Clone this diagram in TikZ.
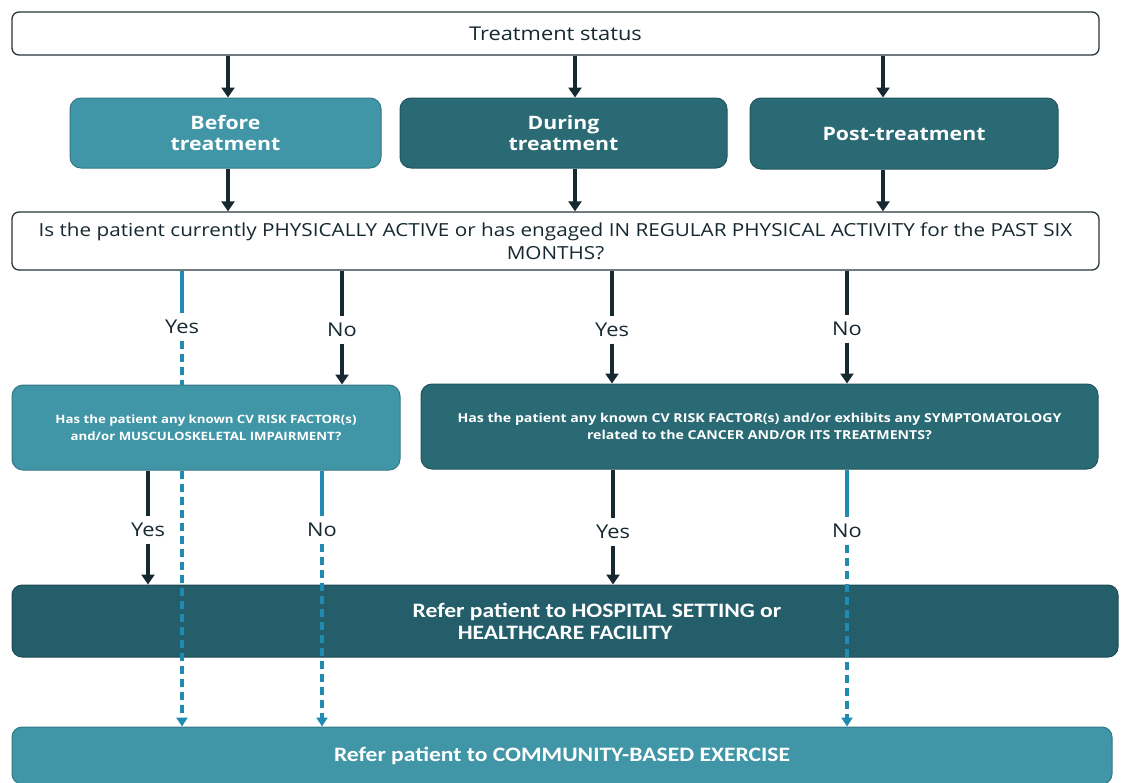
\documentclass[tikz,border=0pt]{standalone}
\usepackage{fontspec}
\setmainfont{Open Sans}[FakeStretch=1.15]
\newfontfamily\calfont{Carlito}[FakeStretch=1.15]
\usetikzlibrary{arrows.meta}

\definecolor{tealA}{RGB}{64,150,167}
\definecolor{tealB}{RGB}{42,106,116}
\definecolor{tealC}{RGB}{36,94,106}
\definecolor{inkdark}{RGB}{22,40,48}
\definecolor{inkblue}{RGB}{32,138,176}
\definecolor{boxline}{RGB}{40,52,58}

\tikzset{
  whitebox/.style={draw=boxline,fill=white,rounded corners=7pt,line width=1.3pt,
    align=center,inner sep=0pt,text=inkdark},
  phasebox/.style={rounded corners=11pt,line width=1pt,align=center,inner sep=0pt,
    text=white,font=\fontsize{18.5}{21}\selectfont\bfseries},
  askbox/.style={rounded corners=11pt,line width=1pt,align=center,inner sep=0pt,
    text=white,font=\fontsize{11.5}{17}\selectfont\bfseries},
  referbox/.style={rounded corners=10pt,line width=1pt,align=center,inner sep=0pt,
    text=white,font=\calfont\fontsize{20.5}{22}\selectfont\bfseries},
  answer/.style={inner sep=0pt,minimum height=27pt,text=inkdark,
    font=\fontsize{19}{20}\selectfont},
  darkline/.style={draw=inkdark,line width=3.5pt},
  darkarrow/.style={darkline,-{Triangle[width=13pt,length=10pt]}},
  blueline/.style={draw=inkblue,line width=3.5pt},
  bluedash/.style={blueline,dash pattern=on 8pt off 5pt},
  bluearrow/.style={bluedash,-{Triangle[width=11pt,length=9pt]}}
}

\begin{document}
\begin{tikzpicture}[x=1pt,y=-1pt]
\useasboundingbox (0,0) rectangle (1124,782);

% boxes
\node[whitebox,minimum width=1087pt,minimum height=43pt,font=\fontsize{19}{20}\selectfont]
  (status) at (555.5,33.5) {Treatment status};
\node[phasebox,fill=tealA,draw=tealA!80!black,minimum width=311pt,minimum height=70pt]
  (before) at (225.5,133) {Before\\treatment};
\node[phasebox,fill=tealB,draw=tealB!80!black,minimum width=327pt,minimum height=70pt]
  (during) at (563.5,133) {During\\treatment};
\node[phasebox,fill=tealB,draw=tealB!80!black,minimum width=308pt,minimum height=71pt]
  (post) at (904,133.5) {Post-treatment};
\node[whitebox,minimum width=1087pt,minimum height=58pt,font=\fontsize{18}{23}\selectfont]
  (active) at (555.5,241) {Is the patient currently PHYSICALLY ACTIVE or has engaged IN REGULAR PHYSICAL ACTIVITY for the PAST SIX\\MONTHS?};
\node[askbox,fill=tealA,draw=tealA!80!black,minimum width=388pt,minimum height=85pt]
  (cvleft) at (206,427.5) {Has the patient any known CV RISK FACTOR(s)\\and/or MUSCULOSKELETAL IMPAIRMENT?};
\node[askbox,fill=tealB,draw=tealB!80!black,minimum width=677pt,minimum height=85pt,
  font=\fontsize{12.3}{17}\selectfont\bfseries]
  (cvright) at (759.5,426.5) {Has the patient any known CV RISK FACTOR(s) and/or exhibits any SYMPTOMATOLOGY\\related to the CANCER AND/OR ITS TREATMENTS?};
\node[referbox,fill=tealC,draw=tealC!80!black,minimum width=1106pt,minimum height=72pt]
  (hospital) at (565,621) {\hspace*{64pt}Refer patient to HOSPITAL SETTING or\\HEALTHCARE FACILITY};
\node[referbox,fill=tealA,draw=tealA!80!black,minimum width=1100pt,minimum height=57pt]
  (community) at (562,755.5) {Refer patient to COMMUNITY-BASED EXERCISE};

% columns
\coordinate (colA) at (228,0);
\coordinate (colB) at (575,0);
\coordinate (colC) at (883,0);

\foreach \c/\p in {colA/before,colB/during,colC/post}{
  \draw[darkarrow] (status.south -| \c) -- (\p.north -| \c);
  \draw[darkarrow] (\p.south -| \c) -- (active.north -| \c);
}

% answers
\node[answer] (yesA) at (182,327) {Yes};
\node[answer] (noA) at (342,330) {No};
\node[answer] (yesB) at (612,330) {Yes};
\node[answer] (noB) at (847,329) {No};
\node[answer] (yesC) at (148,530) {Yes};
\node[answer] (noC) at (322,530) {No};
\node[answer] (yesD) at (613,532) {Yes};
\node[answer] (noD) at (847,531) {No};

\draw[blueline] (active.south -| yesA) -- (yesA);
\draw[bluedash] (yesA) -- (yesA |- cvleft.north);
\draw[darkline] (active.south -| noA) -- (noA);
\draw[darkarrow] (noA) -- (noA |- cvleft.north);
\draw[darkline] (active.south -| yesB) -- (yesB);
\draw[darkarrow] (yesB) -- (yesB |- cvright.north);
\draw[darkline] (active.south -| noB) -- (noB);
\draw[darkarrow] (noB) -- (noB |- cvright.north);

\draw[darkline] (cvleft.south -| yesC) -- (yesC);
\draw[darkarrow] (yesC) -- (yesC |- hospital.north);
\draw[blueline] (cvleft.south -| noC) -- (noC);
\draw[bluearrow] (noC) -- (noC |- community.north);
\draw[darkline] (cvright.south -| yesD) -- (yesD);
\draw[darkarrow] (yesD) -- (yesD |- hospital.north);
\draw[blueline] (cvright.south -| noD) -- (noD);
\draw[bluearrow] (noD) -- (noD |- community.north);
\draw[bluearrow] (cvleft.south -| yesA) -- (community.north -| yesA);
\end{tikzpicture}
\end{document}
